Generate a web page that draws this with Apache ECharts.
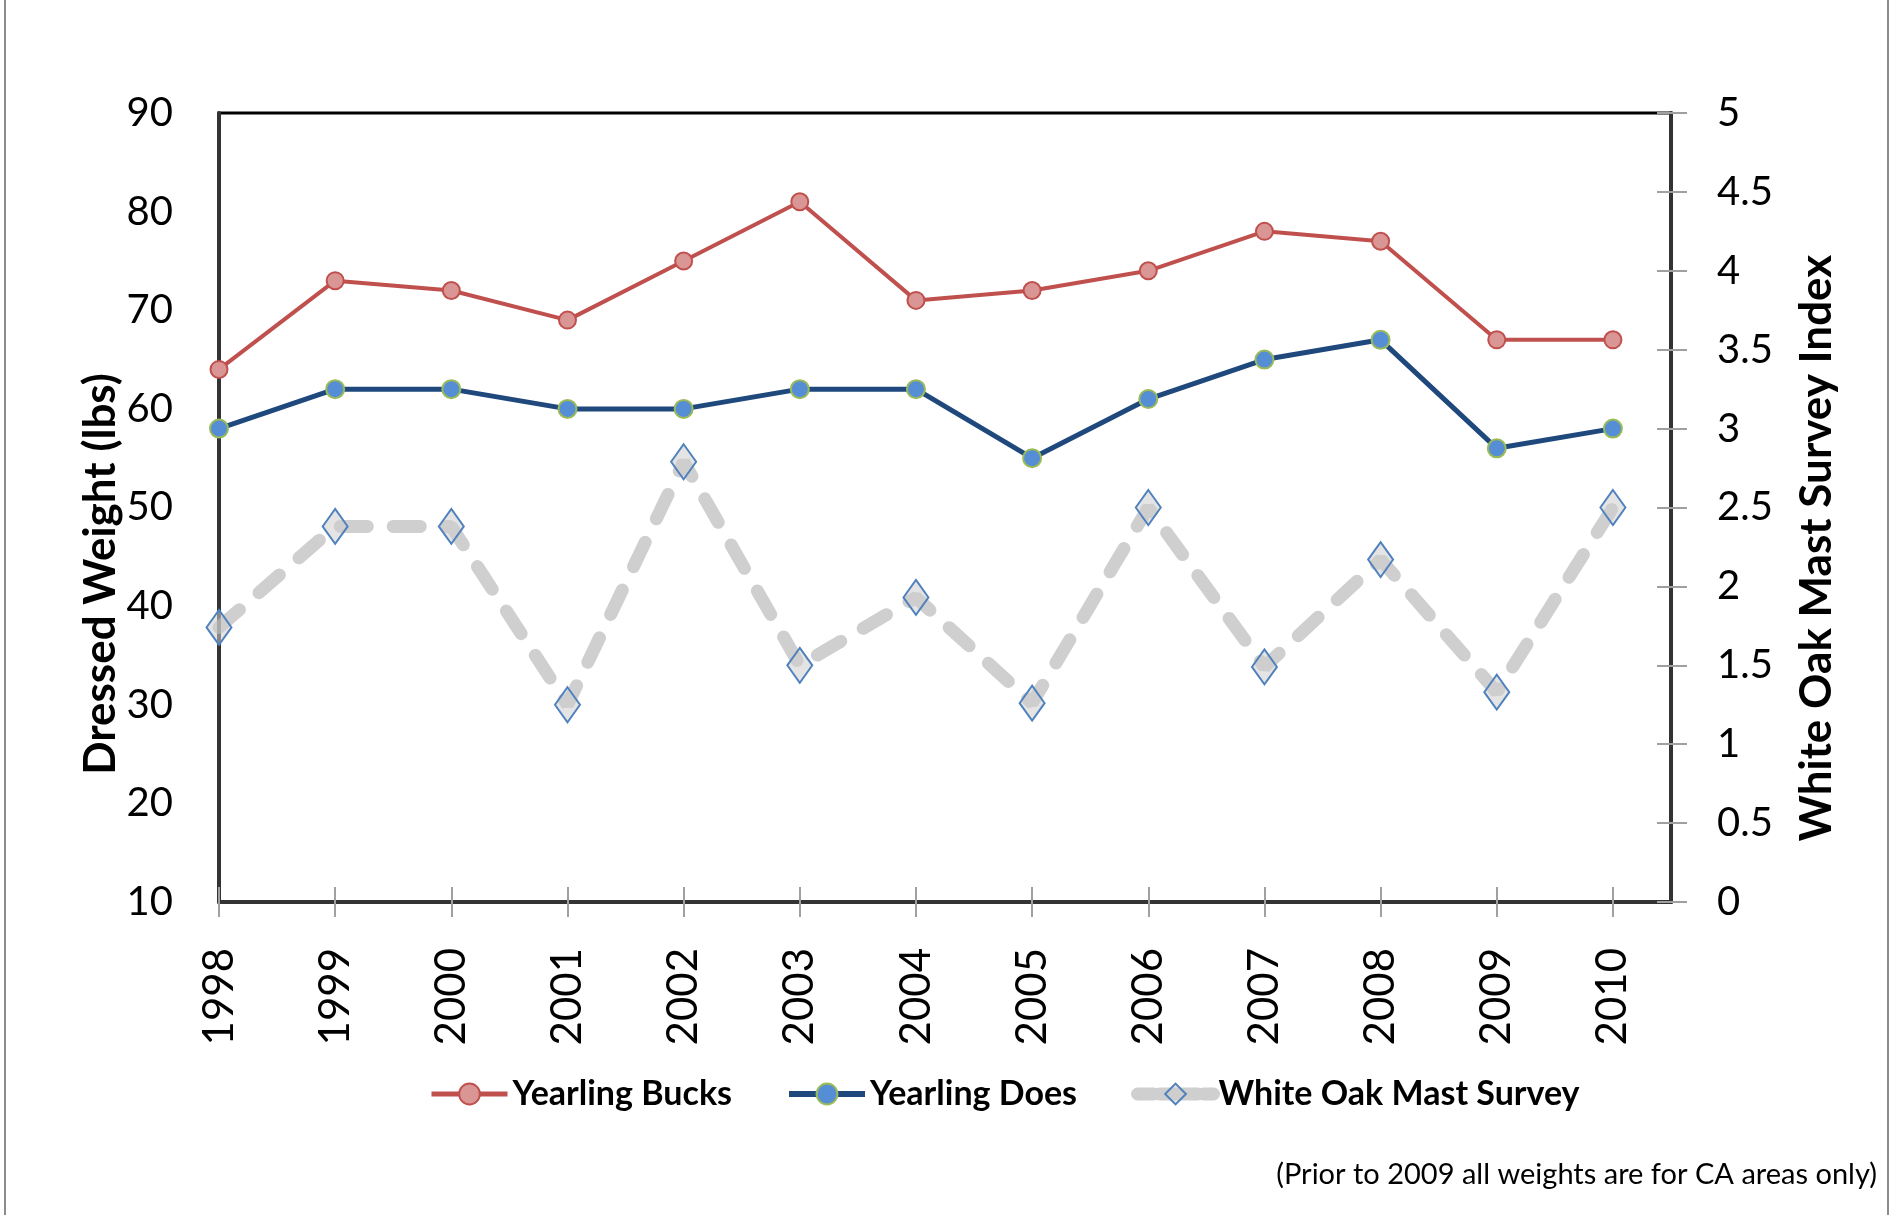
<!DOCTYPE html>
<html>
<head>
<meta charset="utf-8">
<script src="https://cdn.jsdelivr.net/npm/echarts@6/dist/echarts.min.js"></script>
<style>
  html, body { margin: 0; padding: 0; background: #fff; }
  #chart { width: 1898px; height: 1215px; }
</style>
</head>
<body>
<div id="chart"></div>
<script>
// data
const years = [1998, 1999, 2000, 2001, 2002, 2003, 2004, 2005, 2006, 2007, 2008, 2009, 2010]
const yearlingBucks = [64, 73, 72, 69, 75, 81, 71, 72, 74, 78, 77, 67, 67]
const yearlingDoes = [58, 62, 62, 60, 60, 62, 62, 55, 61, 65, 67, 56, 58]
const mastIndex = [1.74, 2.38, 2.38, 1.25, 2.79, 1.5, 1.93, 1.26, 2.5, 1.49, 2.17, 1.33, 2.5]
const weightTicks = [10, 20, 30, 40, 50, 60, 70, 80, 90]
const mastTicks = [0, 0.5, 1, 1.5, 2, 2.5, 3, 3.5, 4, 4.5, 5]

const FONT = 'Lato'
const pairs = arr => years.map((y, i) => [y, arr[i]])

const myChart = echarts.init(document.getElementById('chart'))

const tickStyle = { color: '#a0a0a0', width: 2 }

const option = {
  backgroundColor: '#fff',
  animation: false,
  textStyle: { fontFamily: FONT },
  grid: {
    left: 219,
    right: 227,
    top: 113,
    bottom: 313,
    show: true,
    borderColor: '#000',
    borderWidth: 3
  },
  title: {
    text: '(Prior to 2009 all weights are for CA areas only)',
    right: 16,
    top: 1155,
    textStyle: { fontFamily: FONT, fontSize: 29, fontWeight: 'normal', color: '#000' }
  },
  legend: {
    left: 424,
    top: 1072,
    itemWidth: 76,
    itemHeight: 26,
    itemGap: 54,
    textStyle: { fontFamily: FONT, fontSize: 34, fontWeight: 'bold', color: '#000' },
    data: [
      { name: 'Yearling Bucks', lineStyle: { width: 5 } },
      { name: 'Yearling Does', lineStyle: { width: 6 } },
      { name: 'White Oak Mast Survey', lineStyle: { width: 13, type: [16, 6] } }
    ]
  },
  xAxis: [
    {
      type: 'value',
      position: 'bottom',
      min: 1998,
      max: 2010.5,
      interval: 1,
      splitLine: { show: false },
      axisLine: { show: true, onZero: false, lineStyle: { color: '#333', width: 4 } },
      axisTick: { show: true, length: 15, customValues: years, lineStyle: tickStyle },
      axisLabel: {
        customValues: years,
        rotate: 90,
        margin: 46,
        fontFamily: FONT,
        fontSize: 42,
        color: '#000',
        formatter: v => String(v)
      }
    },
    {
      type: 'value',
      position: 'bottom',
      min: 1998,
      max: 2010.5,
      interval: 1,
      splitLine: { show: false },
      axisLine: { show: false, onZero: false },
      axisTick: { show: true, inside: true, length: 15, customValues: years, lineStyle: tickStyle },
      axisLabel: { show: false }
    }
  ],
  yAxis: [
    {
      type: 'value',
      position: 'left',
      min: weightTicks[0],
      max: weightTicks[weightTicks.length - 1],
      interval: 10,
      splitLine: { show: false },
      axisLine: { show: true, onZero: false, lineStyle: { color: '#333', width: 4 } },
      axisTick: { show: false },
      axisLabel: { margin: 46, fontFamily: FONT, fontSize: 40, color: '#000' }
    },
    {
      type: 'value',
      position: 'right',
      min: mastTicks[0],
      max: mastTicks[mastTicks.length - 1],
      interval: 0.5,
      splitLine: { show: false },
      axisLine: { show: true, onZero: false, lineStyle: { color: '#333', width: 4 } },
      axisTick: { show: true, length: 16, lineStyle: tickStyle },
      axisLabel: { margin: 46, fontFamily: FONT, fontSize: 40, color: '#000' }
    },
    {
      type: 'value',
      position: 'right',
      min: mastTicks[0],
      max: mastTicks[mastTicks.length - 1],
      interval: 0.5,
      splitLine: { show: false },
      axisLine: { show: false, onZero: false },
      axisTick: { show: true, inside: true, length: 14, lineStyle: tickStyle },
      axisLabel: { show: false }
    }
  ],
  graphic: [
    {
      type: 'rect',
      shape: { x: 5, y: -10, width: 1883, height: 1240 },
      style: { fill: 'none', stroke: '#8c8c8c', lineWidth: 2 },
      silent: true
    },
    {
      type: 'text',
      x: 101,
      y: 574,
      rotation: Math.PI / 2,
      style: {
        text: 'Dressed Weight (lbs)',
        fontFamily: FONT,
        fontSize: 44,
        fontWeight: 'bold',
        fill: '#000',
        align: 'center',
        verticalAlign: 'middle'
      }
    },
    {
      type: 'text',
      x: 1817,
      y: 548,
      rotation: Math.PI / 2,
      style: {
        text: 'White Oak Mast Survey Index',
        fontFamily: FONT,
        fontSize: 44,
        fontWeight: 'bold',
        fill: '#000',
        align: 'center',
        verticalAlign: 'middle'
      }
    }
  ],
  series: [
    {
      name: 'White Oak Mast Survey',
      type: 'line',
      xAxisIndex: 0,
      yAxisIndex: 1,
      data: pairs(mastIndex),
      symbol: 'diamond',
      symbolSize: [25, 35],
      lineStyle: { color: 'rgba(175,175,175,0.6)', width: 13, type: [27, 26], cap: 'round' },
      itemStyle: { color: 'rgba(205,205,205,0.55)', borderColor: '#4f81bd', borderWidth: 2 },
      z: 2
    },
    {
      name: 'Yearling Bucks',
      type: 'line',
      xAxisIndex: 0,
      yAxisIndex: 0,
      data: pairs(yearlingBucks),
      symbol: 'circle',
      symbolSize: 17,
      lineStyle: { color: '#c0504d', width: 4 },
      itemStyle: { color: '#d99694', borderColor: '#c0504d', borderWidth: 2 },
      z: 3
    },
    {
      name: 'Yearling Does',
      type: 'line',
      xAxisIndex: 0,
      yAxisIndex: 0,
      data: pairs(yearlingDoes),
      symbol: 'circle',
      symbolSize: 18,
      lineStyle: { color: '#1f497d', width: 5 },
      itemStyle: { color: '#558ed5', borderColor: '#9bbb59', borderWidth: 2 },
      z: 3
    }
  ]
}

myChart.setOption(option, true)
</script>
</body>
</html>
